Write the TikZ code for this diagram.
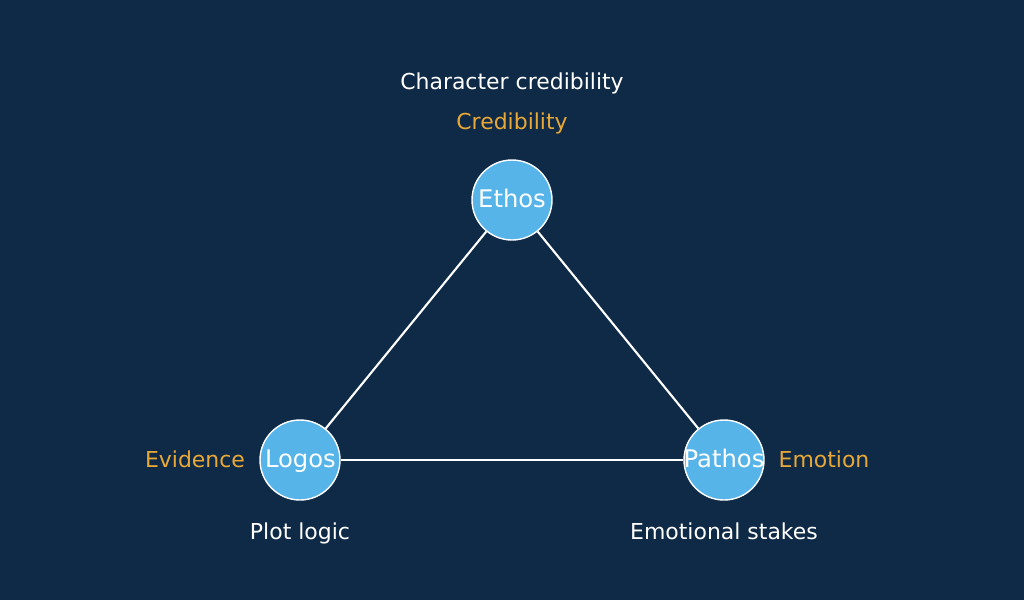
\documentclass[tikz,border=0pt]{standalone}
\usepackage{fontspec}
\setmainfont{DejaVu Sans}
\usetikzlibrary{positioning}
\definecolor{bgnavy}{HTML}{0F2A47}
\definecolor{appeal}{HTML}{56B4E9}
\definecolor{tag}{HTML}{E8A838}
\newlength{\px}
\setlength{\px}{0.02cm}
\tikzstyle{appeal}=[draw=white,fill=appeal,circle,minimum size=80\px,inner sep=0pt,thick,text=white,font=\fontsize{13.8}{15}\selectfont,text height=1.8ex,text depth=0.2ex,text width=70\px,align=center]
\tikzstyle{tag}=[text=tag,font=\fontsize{12.5}{14}\selectfont,text height=1.8ex,text depth=0.2ex]
\tikzstyle{note}=[text=white,font=\fontsize{12.5}{14}\selectfont,text height=1.8ex,text depth=0.2ex]
\begin{document}
\begin{tikzpicture}[x=0.02cm,y=-0.02cm]
\fill[bgnavy] (0,0) rectangle (1024,600);
\node [appeal] (ethos) at (512,200) {Ethos};
\node [appeal] (logos) at (300,460) {Logos};
\node [appeal] (pathos) at (724,460) {\makebox[0pt]{Pathos}};

\draw [white,very thick] (ethos) -- (logos);
\draw [white,very thick] (ethos) -- (pathos);
\draw [white,very thick] (logos) -- (pathos);

\node [note] (ethosnote) at (512,82) {Character credibility};
\node [tag] (ethostag) at (512,122) {Credibility};
\node [tag] (logostag) at (195,460) {Evidence};
\node [tag] (pathostag) at (824,460) {Emotion};
\node [note] (logosnote) at (300,532) {Plot logic};
\node [note] (pathosnote) at (724,532) {Emotional stakes};
\end{tikzpicture}
\end{document}
